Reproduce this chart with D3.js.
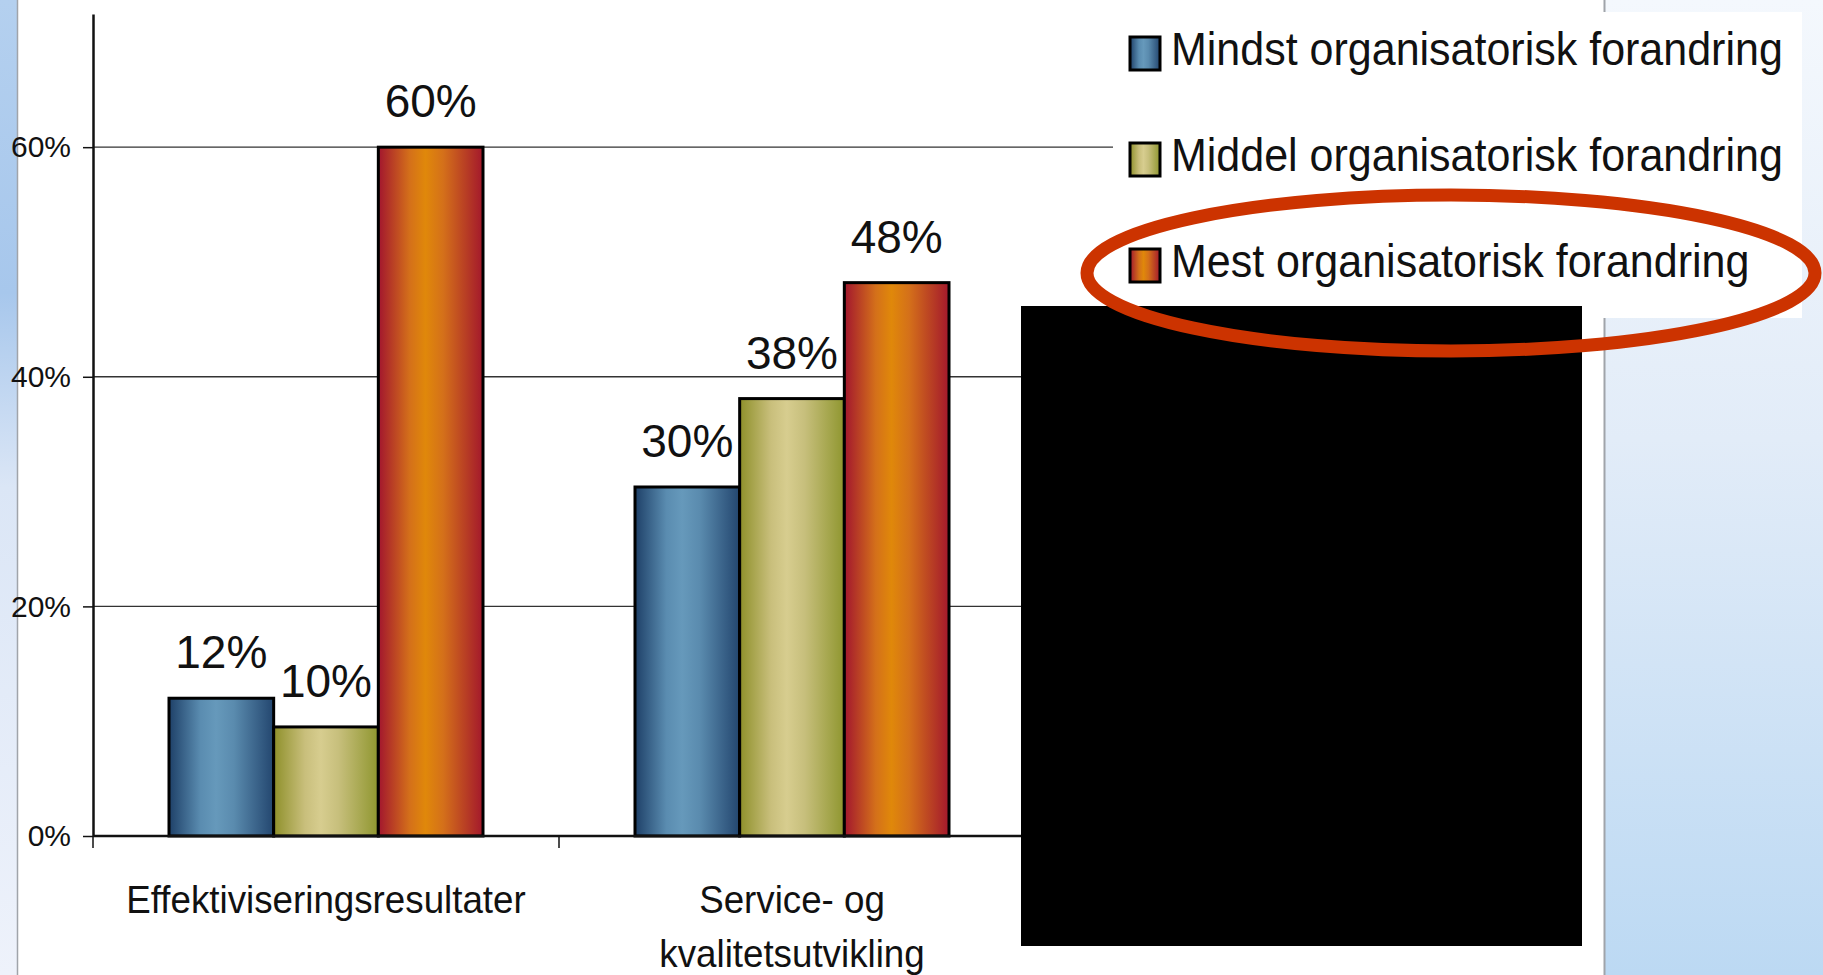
<!DOCTYPE html>
<html>
<head>
<meta charset="utf-8">
<script src="https://cdn.jsdelivr.net/npm/d3@7"></script>
<style>
  body { margin: 0; background: #fff; }
  svg { display: block; font-family: "Liberation Sans", Arial, sans-serif; }
</style>
</head>
<body>
<div id="chart"></div>
<script>
// categories (3rd one is covered by the black box in the original)
const categories = [["Effektiviseringsresultater"], ["Service- og", "kvalitetsutvikling"], [""]];
const seriesNames = ["Mindst organisatorisk forandring", "Middel organisatorisk forandring", "Mest organisatorisk forandring"];
const mindst = [0.12, 0.304, null];
const middel = [0.095, 0.381, null];
const mest = [0.60, 0.482, null];
const yTicks = [0, 0.2, 0.4, 0.6];

const series = [mindst, middel, mest];
const gradStops = [0, 0.3, 0.45, 0.62, 1];
const gradColors = [
  ["#1e4068", "#5a8cb0", "#6699bb", "#5a8bae", "#23466f"],
  ["#8e902a", "#c9bf7c", "#d7cd8f", "#c7bf7c", "#8f962f"],
  ["#a2162e", "#d4701a", "#e0880a", "#d4701a", "#a3182c"]
];

const W = 1823, H = 975;
const plot = { left: 93, right: 1491, top: 14, bottom: 836 };
const pct = d => Math.round(d * 100) + "%";

const svg = d3.select("#chart").append("svg")
  .attr("width", W)
  .attr("height", H);

const defs = svg.append("defs");
gradColors.forEach((cols, k) => {
  const g = defs.append("linearGradient").attr("id", "grad" + k)
    .attr("x1", "0").attr("x2", "1").attr("y1", "0").attr("y2", "0");
  cols.forEach((c, j) => g.append("stop").attr("offset", gradStops[j]).attr("stop-color", c));
});
const lg = defs.append("linearGradient").attr("id", "leftStrip").attr("x1", 0).attr("x2", 0).attr("y1", 0).attr("y2", 1);
[[0, "#b4d0ef"], [0.3, "#a7c7ec"], [0.5, "#dbe6f6"], [1, "#eef2fb"]].forEach(s => lg.append("stop").attr("offset", s[0]).attr("stop-color", s[1]));
const rg = defs.append("linearGradient").attr("id", "rightPanel").attr("x1", 0).attr("x2", 0).attr("y1", 0).attr("y2", 1);
[[0, "#f4f8fd"], [0.45, "#e2ecf8"], [1, "#bcd9f3"]].forEach(s => rg.append("stop").attr("offset", s[0]).attr("stop-color", s[1]));

// slide background
svg.append("rect").attr("width", W).attr("height", H).attr("fill", "#fff");
svg.append("rect").attr("x", 0).attr("y", 0).attr("width", 17).attr("height", H).attr("fill", "url(#leftStrip)");
svg.append("line").attr("x1", 17.5).attr("x2", 17.5).attr("y1", 0).attr("y2", H).attr("stroke", "#a0a4aa").attr("stroke-width", 1.5);
svg.append("rect").attr("x", 1605).attr("y", 0).attr("width", W - 1605).attr("height", H).attr("fill", "url(#rightPanel)");
svg.append("line").attr("x1", 1604.5).attr("x2", 1604.5).attr("y1", 0).attr("y2", H).attr("stroke", "#a0a4aa").attr("stroke-width", 2);

// scales
const x0 = d3.scaleBand().domain(d3.range(categories.length)).range([plot.left, plot.right]);
const x1 = d3.scaleBand().domain(d3.range(series.length)).range([76, 390]);
const y = d3.scaleLinear().domain([0, 0.716]).range([plot.bottom, plot.top]);

// gridlines
svg.append("g").selectAll("line").data(yTicks.filter(t => t > 0)).join("line")
  .attr("x1", plot.left).attr("x2", plot.right)
  .attr("y1", d => y(d)).attr("y2", d => y(d))
  .attr("stroke", "#333").attr("stroke-width", 1.4);

// bars
const groups = svg.append("g").selectAll("g").data(categories).join("g")
  .attr("transform", (d, i) => `translate(${x0(i)},0)`);
const cells = (d, i) => series.map((s, k) => ({ k, v: s[i] })).filter(e => e.v != null);
groups.selectAll("rect").data(cells).join("rect")
  .attr("x", e => x1(e.k))
  .attr("y", e => y(e.v))
  .attr("width", x1.bandwidth())
  .attr("height", e => y(0) - y(e.v))
  .attr("fill", e => `url(#grad${e.k})`)
  .attr("stroke", "#000")
  .attr("stroke-width", 3);
groups.selectAll("text").data(cells).join("text")
  .attr("x", e => x1(e.k) + x1.bandwidth() / 2)
  .attr("y", e => y(e.v) - 30)
  .attr("text-anchor", "middle")
  .attr("font-size", 46)
  .attr("fill", "#111")
  .text(e => pct(e.v));

// y axis
const yAxis = svg.append("g")
  .attr("transform", `translate(${plot.left},0)`)
  .call(d3.axisLeft(y).tickValues(yTicks).tickFormat(pct).tickSize(10).tickSizeOuter(0).tickPadding(12));
yAxis.select(".domain").attr("stroke", "#111").attr("stroke-width", 2.5);
yAxis.selectAll(".tick line").attr("stroke", "#111").attr("stroke-width", 1.5);
yAxis.selectAll(".tick text").attr("font-size", 30).attr("fill", "#111")
  .attr("font-family", "'Liberation Sans', Arial, sans-serif");

// x axis (ticks between categories)
svg.append("line").attr("x1", plot.left).attr("x2", plot.right)
  .attr("y1", plot.bottom).attr("y2", plot.bottom)
  .attr("stroke", "#111").attr("stroke-width", 2.5);
svg.append("g").selectAll("line").data(d3.range(categories.length + 1)).join("line")
  .attr("x1", i => i < categories.length ? x0(i) : plot.right)
  .attr("x2", i => i < categories.length ? x0(i) : plot.right)
  .attr("y1", plot.bottom).attr("y2", plot.bottom + 12)
  .attr("stroke", "#111").attr("stroke-width", 1.5);
svg.append("g").selectAll("text").data(categories).join("text")
  .attr("transform", (d, i) => `translate(${x0(i) + x0.bandwidth() / 2},913) scale(0.967,1)`)
  .attr("text-anchor", "middle")
  .attr("font-size", 38)
  .attr("fill", "#111")
  .selectAll("tspan").data(d => d).join("tspan")
  .attr("x", 0)
  .attr("dy", (d, j) => j === 0 ? 0 : 54)
  .text(d => d);

// legend
svg.append("rect").attr("x", 1113).attr("y", 12).attr("width", 1802 - 1113).attr("height", 318 - 12).attr("fill", "#fff");
const legend = svg.append("g").selectAll("g").data(seriesNames).join("g")
  .attr("transform", (d, k) => `translate(1130,${65 + k * 106})`);
legend.append("rect")
  .attr("x", 0).attr("y", -28).attr("width", 30).attr("height", 33)
  .attr("fill", (d, k) => `url(#grad${k})`)
  .attr("stroke", "#000").attr("stroke-width", 3);
legend.append("text")
  .attr("transform", "translate(41,0) scale(0.935,1)")
  .attr("font-size", 46)
  .attr("fill", "#111")
  .text(d => d);

// redaction box and highlight ellipse from the slide
svg.append("rect").attr("x", 1021).attr("y", 306).attr("width", 1582 - 1021).attr("height", 946 - 306).attr("fill", "#000");
svg.append("ellipse").attr("cx", 1451).attr("cy", 273).attr("rx", 364).attr("ry", 78)
  .attr("fill", "none").attr("stroke", "#cc3300").attr("stroke-width", 13);
</script>
</body>
</html>
